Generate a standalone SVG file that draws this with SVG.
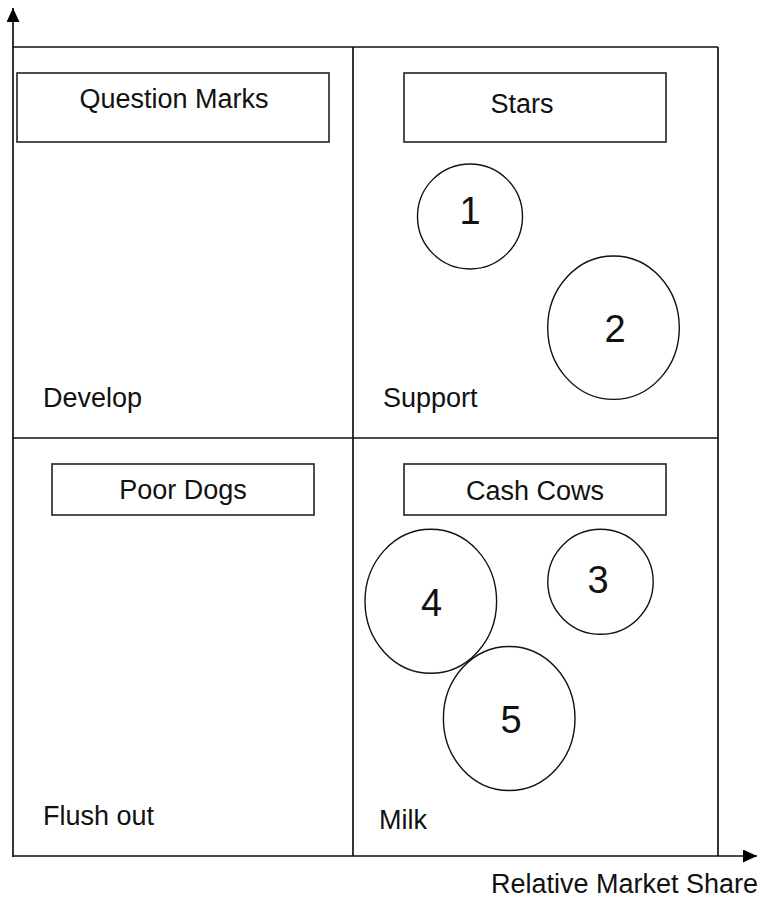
<svg xmlns="http://www.w3.org/2000/svg" width="766" height="898" viewBox="0 0 766 898">
<style>
  .ln { stroke: #111; stroke-width: 1.7; fill: none; }
  .box { stroke: #222; stroke-width: 1.6; fill: #fff; }
  .bub { stroke: #111; stroke-width: 1.4; fill: none; }
  .t { font-family: "Liberation Sans", Arial, sans-serif; font-size: 27px; fill: #111; }
  .d { font-family: "Liberation Sans", Arial, sans-serif; font-size: 38px; fill: #111; text-anchor: middle; }
  .c { text-anchor: middle; }
</style>
<defs>
  <marker id="arr" viewBox="0 0 14 13" refX="14" refY="6.5" markerWidth="14" markerHeight="13" markerUnits="userSpaceOnUse" orient="auto">
    <path d="M0,0 L14,6.5 L0,13 Z" fill="#000"/>
  </marker>
</defs>
<rect width="766" height="898" fill="#fff"/>
<g id="connectors">
  <line class="ln" x1="13" y1="857" x2="13" y2="8" marker-end="url(#arr)"/>
  <line class="ln" x1="13" y1="856" x2="757" y2="856" marker-end="url(#arr)"/>
  <line class="ln" x1="13" y1="47" x2="718" y2="47"/>
  <line class="ln" x1="718" y1="47" x2="718" y2="856"/>
  <line class="ln" x1="353" y1="47" x2="353" y2="856"/>
  <line class="ln" x1="13" y1="438" x2="718" y2="438"/>
</g>
<g id="question-marks">
  <rect class="box" x="17" y="73" width="312" height="69"/>
  <text class="t c" x="174" y="108">Question Marks</text>
</g>
<g id="stars">
  <rect class="box" x="404" y="73" width="262" height="69"/>
  <text class="t c" x="522" y="113">Stars</text>
</g>
<g id="poor-dogs">
  <rect class="box" x="52" y="464" width="262" height="51"/>
  <text class="t c" x="183" y="499">Poor Dogs</text>
</g>
<g id="cash-cows">
  <rect class="box" x="404" y="464" width="262" height="51"/>
  <text class="t c" x="535" y="500">Cash Cows</text>
</g>
<g id="develop"><text class="t" x="43" y="407">Develop</text></g>
<g id="support"><text class="t" x="383" y="407">Support</text></g>
<g id="flush-out"><text class="t" x="43" y="825">Flush out</text></g>
<g id="milk"><text class="t" x="379" y="829">Milk</text></g>
<g id="axis-label"><text class="t" x="491" y="893">Relative Market Share</text></g>
<g id="bubble-1">
  <ellipse class="bub" cx="470" cy="216.5" rx="52.5" ry="52.5"/>
  <text class="d" x="470" y="224">1</text>
</g>
<g id="bubble-2">
  <ellipse class="bub" cx="613.5" cy="327.7" rx="65.8" ry="71.7"/>
  <text class="d" x="615" y="342">2</text>
</g>
<g id="bubble-3">
  <ellipse class="bub" cx="600.5" cy="581.8" rx="52.7" ry="52.5"/>
  <text class="d" x="598" y="593">3</text>
</g>
<g id="bubble-4">
  <ellipse class="bub" cx="430.8" cy="601.3" rx="65.8" ry="72"/>
  <text class="d" x="431.5" y="616">4</text>
</g>
<g id="bubble-5">
  <ellipse class="bub" cx="509.2" cy="718.5" rx="65.8" ry="72"/>
  <text class="d" x="511" y="733">5</text>
</g>
</svg>
